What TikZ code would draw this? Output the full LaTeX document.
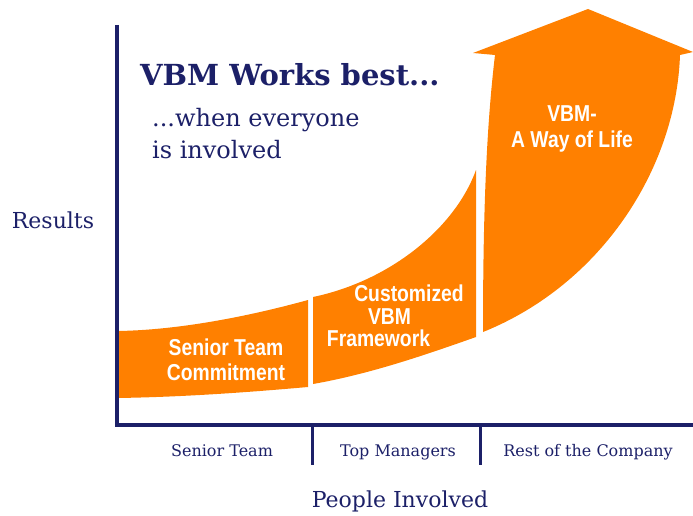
\documentclass[tikz,border=0pt]{standalone}
\usepackage{fontspec}
\setmainfont{DejaVu Serif}
\newfontfamily\barfont{Liberation Sans}[FakeStretch=0.84]
\definecolor{navy}{RGB}{28,32,104}
\definecolor{vbmorange}{RGB}{255,128,0}
\tikzset{
  bar/.style={fill=vbmorange, draw=none},
  bartext/.style={text=white, inner sep=0pt, anchor=base,
    text height=16.5pt, text depth=0pt,
    font=\barfont\bfseries\fontsize{23}{25}\selectfont},
  axisline/.style={draw=navy, line width=4pt, line join=miter},
  divider/.style={draw=navy, line width=3pt},
  serif/.style={text=navy, inner sep=0pt},
  catlabel/.style={serif, anchor=base, font=\fontsize{16}{19}\selectfont},
}
\begin{document}
\begin{tikzpicture}[x=1pt,y=-1pt]
\useasboundingbox (0,0) rectangle (693,516);

% growth band, first stage
\path[bar] (118,331) .. controls (180,330) and (250,316) .. (308,300)
  -- (308,387) .. controls (240,393) and (180,397) .. (118,398) -- cycle;
% second stage
\path[bar] (313,297) .. controls (390,281) and (455,228) .. (476,170)
  -- (476,337) .. controls (425,355) and (370,374) .. (313,384) -- cycle;
% third stage, ending in the arrow head
\path[bar] (483,332) .. controls (483,220) and (486,130) .. (495,55)
  -- (473,53) -- (588,9) -- (693,52) -- (680,55)
  .. controls (676,170) and (600,285) .. (483,332) -- cycle;

% stage captions
\node[bartext] (st1) at (226,355) {Senior Team};
\node[bartext] (st2) at (226,380) {Commitment};
\node[bartext] (cf1) at (409,301.5) {Customized};
\node[bartext] (cf2) at (389.5,324) {VBM};
\node[bartext] (cf3) at (378.5,346.5) {Framework};
\node[bartext] (wl1) at (572,122) {VBM-};
\node[bartext] (wl2) at (572,147) {A Way of Life};

% axes
\coordinate (ytop) at (116.5,25);
\coordinate (origin) at (116.5,424.5);
\coordinate (xend) at (693,424.5);
\draw[axisline] (ytop) -- (origin) -- (xend);

% group dividers under the x axis
\coordinate (d1top) at (312,425);
\coordinate (d1bot) at (312,465);
\coordinate (d2top) at (480,425);
\coordinate (d2bot) at (480,465);
\draw[divider] (d1top) -- (d1bot);
\draw[divider] (d2top) -- (d2bot);

% headline
\node[serif, anchor=base west, font=\bfseries\fontsize{29}{34}\selectfont]
  (title) at (140,86) {VBM Works best...};
\node[serif, anchor=base west, font=\fontsize{24}{31}\selectfont]
  (sub1) at (152,127) {...when everyone};
\node[serif, anchor=base west, font=\fontsize{24}{31}\selectfont]
  (sub2) at (152,158) {is involved};

% axis titles
\node[serif, anchor=base, font=\fontsize{22}{26}\selectfont]
  (results) at (53,228) {Results};
\node[serif, anchor=base, font=\fontsize{22}{26}\selectfont]
  (people) at (400,507) {People Involved};

% groups of people
\node[catlabel] (g1) at (222,456) {Senior Team};
\node[catlabel] (g2) at (398,456) {Top Managers};
\node[catlabel] (g3) at (588,456) {Rest of the Company};
\end{tikzpicture}
\end{document}
